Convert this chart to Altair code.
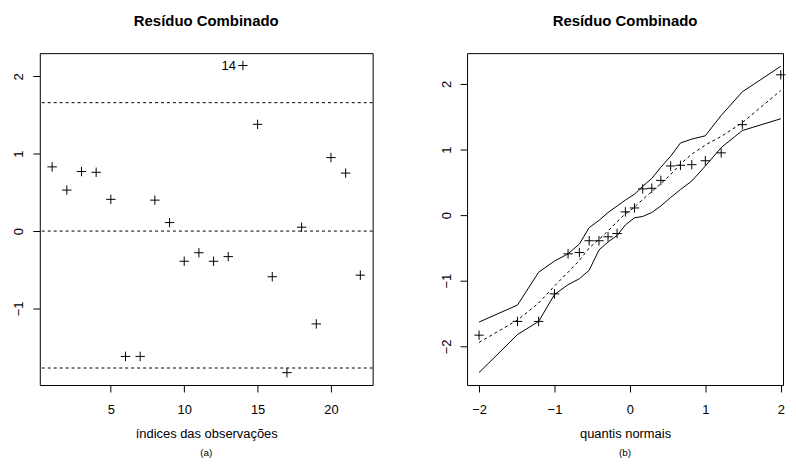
import altair as alt
import pandas as pd

# ---- panel (a): residuals by observation index ----
obs_index = [1, 2, 3, 4, 5, 6, 7, 8, 9, 10, 11, 12, 13, 14, 15, 16, 17, 18, 19, 20, 21, 22]
residuals = [0.83, 0.53, 0.77, 0.76, 0.41, -1.62, -1.62, 0.40, 0.11, -0.39, -0.28,
             -0.39, -0.33, 2.14, 1.38, -0.59, -1.83, 0.05, -1.20, 0.95, 0.75, -0.57]
ref_lines = [1.66, 0.0, -1.77]
flag_index = [14]
flag_value = [2.14]
flag_label = ["14"]

# ---- panel (b): normal probability plot with envelope ----
normal_quantiles = [-2.00, -1.49, -1.21, -1.00, -0.82, -0.67, -0.54, -0.41, -0.29, -0.17, -0.06,
                    0.06, 0.17, 0.29, 0.41, 0.54, 0.67, 0.82, 1.00, 1.21, 1.49, 2.00]
sorted_residuals = [-1.83, -1.62, -1.62, -1.20, -0.59, -0.57, -0.39, -0.39, -0.33, -0.28, 0.05,
                    0.11, 0.40, 0.41, 0.53, 0.75, 0.76, 0.77, 0.83, 0.95, 1.38, 2.14]
env_lower = [-2.40, -1.82, -1.62, -1.21, -1.06, -0.97, -0.84, -0.53, -0.41, -0.31, -0.15,
             -0.04, -0.02, 0.04, 0.14, 0.27, 0.39, 0.52, 0.75, 1.03, 1.29, 1.47]
env_mid = [-1.94, -1.60, -1.34, -1.08, -0.87, -0.69, -0.50, -0.37, -0.24, -0.10, 0.02,
           0.12, 0.24, 0.36, 0.48, 0.62, 0.78, 0.93, 1.07, 1.20, 1.41, 1.90]
env_upper = [-1.63, -1.37, -0.87, -0.70, -0.59, -0.44, -0.19, -0.08, 0.04, 0.14, 0.23,
             0.32, 0.44, 0.56, 0.73, 0.90, 1.10, 1.16, 1.21, 1.52, 1.88, 2.27]

FONT = "Liberation Sans"
PLUS = "M-1,0L1,0M0,-1L0,1"
W_A, H = 335, 334
W_B = 318

title_a = alt.TitleParams("Resíduo Combinado", fontSize=15, fontWeight="bold", font=FONT,
                          anchor="middle", frame="group", offset=24, color="black")

# ---------- panel (a) ----------
xa = alt.X("x:Q", scale=alt.Scale(domain=[0.16, 22.84], nice=False, zero=False),
           axis=alt.Axis(values=[5, 10, 15, 20], title="índices das observações"))
ya = alt.Y("y:Q", scale=alt.Scale(domain=[-1.99, 2.30], nice=False, zero=False),
           axis=alt.Axis(values=[-1, 0, 1, 2], title=None, labelAngle=-90,
                         labelAlign="center", labelBaseline="bottom"))

df_a = pd.DataFrame({"x": obs_index, "y": residuals})
df_ref = pd.DataFrame({"y": ref_lines})
df_flag = pd.DataFrame({"x": flag_index, "y": flag_value, "t": flag_label})

pts_a = alt.Chart(df_a).mark_point(shape=PLUS, size=90, filled=False, stroke="black",
                                   strokeWidth=1, opacity=1).encode(x=xa, y=ya)
rules_a = alt.Chart(df_ref).mark_rule(color="black", strokeWidth=1,
                                      strokeDash=[3, 3]).encode(y=ya)
flag_a = alt.Chart(df_flag).mark_text(align="right", baseline="middle", dx=-7,
                                      fontSize=13, font=FONT, color="black").encode(x=xa, y=ya, text="t:N")
sub_a = alt.Chart(pd.DataFrame({"t": ["(a)"]})).mark_text(
    fontSize=10, font=FONT, color="black", baseline="middle").encode(
    x=alt.value(W_A / 2), y=alt.value(H + 68), text="t:N")

left = alt.layer(rules_a, pts_a, flag_a, sub_a).properties(width=W_A, height=H, title=title_a)

# ---------- panel (b) ----------
xb = alt.X("x:Q", scale=alt.Scale(domain=[-2.159, 2.03], nice=False, zero=False),
           axis=alt.Axis(values=[-2, -1, 0, 1, 2], title="quantis normais"))
yb = alt.Y("y:Q", scale=alt.Scale(domain=[-2.59, 2.47], nice=False, zero=False),
           axis=alt.Axis(values=[-2, -1, 0, 1, 2], title=None, labelAngle=-90,
                         labelAlign="center", labelBaseline="bottom"))

df_b = pd.DataFrame({"x": normal_quantiles, "y": sorted_residuals})
df_lo = pd.DataFrame({"x": normal_quantiles, "y": env_lower})
df_mid = pd.DataFrame({"x": normal_quantiles, "y": env_mid})
df_up = pd.DataFrame({"x": normal_quantiles, "y": env_upper})

line_lo = alt.Chart(df_lo).mark_line(color="black", strokeWidth=1).encode(x=xb, y=yb)
line_up = alt.Chart(df_up).mark_line(color="black", strokeWidth=1).encode(x=xb, y=yb)
line_mid = alt.Chart(df_mid).mark_line(color="black", strokeWidth=1,
                                       strokeDash=[3, 3]).encode(x=xb, y=yb)
pts_b = alt.Chart(df_b).mark_point(shape=PLUS, size=90, filled=False, stroke="black",
                                   strokeWidth=1, opacity=1).encode(x=xb, y=yb)
sub_b = alt.Chart(pd.DataFrame({"t": ["(b)"]})).mark_text(
    fontSize=10, font=FONT, color="black", baseline="middle").encode(
    x=alt.value(W_B / 2), y=alt.value(H + 68), text="t:N")

right = alt.layer(line_lo, line_up, line_mid, pts_b, sub_b).properties(
    width=W_B, height=H, title=title_a)

chart = alt.hconcat(left, right, spacing=66).properties(
    padding={"left": 4, "top": 4, "right": 0, "bottom": 0}
).configure_view(
    stroke="black", strokeWidth=1
).configure_axis(
    grid=False, domain=False, ticks=True, tickColor="black", tickSize=7, tickWidth=1,
    labelFont=FONT, labelFontSize=13, labelColor="black", labelPadding=7,
    titleFont=FONT, titleFontSize=13, titleFontWeight="normal", titleColor="black",
    titlePadding=10
).configure_axisX(
    labelPadding=12, titlePadding=11
)

chart.save("out.html", embed_options={"renderer": "svg", "actions": False})
